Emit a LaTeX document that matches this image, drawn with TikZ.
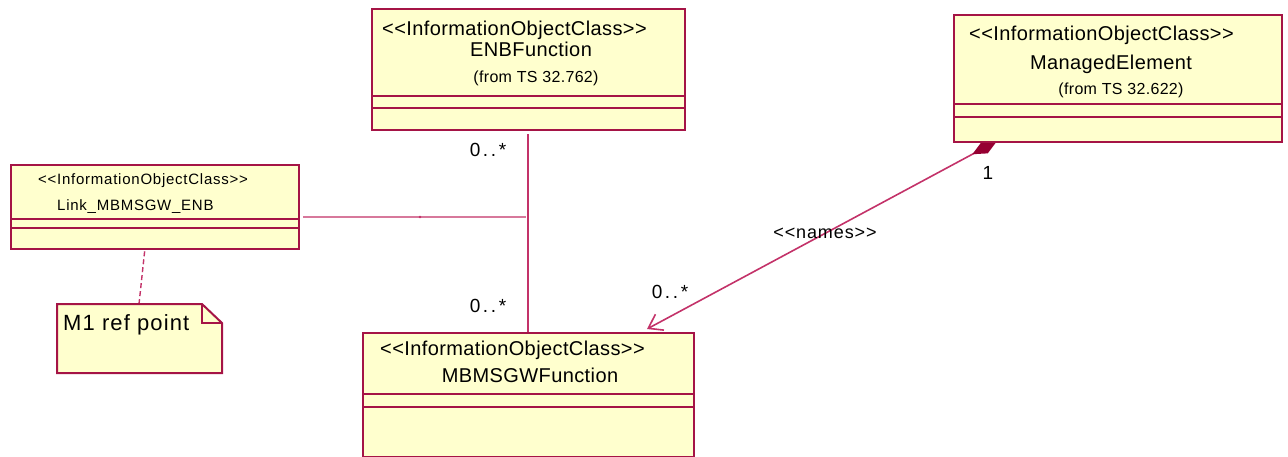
\documentclass[tikz,border=0pt]{standalone}
\usepackage{fontspec}
\setmainfont{Liberation Sans}
\newfontfamily\umlf[LetterSpace=2]{Liberation Sans}
\newfontfamily\umlg[LetterSpace=5]{Liberation Sans}
\newfontfamily\umlm[LetterSpace=14]{Liberation Sans}
\usetikzlibrary{arrows.meta}
\definecolor{umlborder}{RGB}{165,20,70}
\definecolor{umlfill}{RGB}{255,255,206}
\definecolor{umlline}{RGB}{195,50,105}
\definecolor{umllight}{RGB}{215,120,155}
\definecolor{umldia}{RGB}{150,0,50}
\tikzset{
  umlbox/.style={draw=umlborder, fill=umlfill, line width=2pt, anchor=north west, inner sep=0pt},
  divider/.style={draw=umlborder, line width=2pt},
  stereo/.style={anchor=west, inner sep=0pt, font=\umlf\fontsize{20}{22}\selectfont},
  stereosmall/.style={anchor=west, inner sep=0pt, font=\umlg\fontsize{15}{17}\selectfont},
  cname/.style={inner sep=0pt, font=\umlf\fontsize{20}{22}\selectfont},
  fromtxt/.style={inner sep=0pt, font=\umlf\fontsize{16}{18}\selectfont},
  mult/.style={inner sep=0pt, font=\umlm\fontsize{19}{21}\selectfont},
  assoc/.style={draw=umlline, line width=1.6pt},
}
\begin{document}
\begin{tikzpicture}[x=1pt,y=-1pt]
\useasboundingbox (0,0) rectangle (1288,456);
% connector end points
\coordinate (vtop) at (528,134);
\coordinate (vbot) at (528,332);
\coordinate (hleft) at (303,217);
\coordinate (hright) at (526,217);
\coordinate (mestart) at (997,141);
\coordinate (mbend) at (647,329);
\coordinate (notetop) at (139,304);
\coordinate (linkbot) at (145,248);
% connectors
\draw[assoc] (vtop) -- (vbot);
\draw[draw=umllight, line width=1.8pt] (hleft) -- (hright);
\fill[umlline] (420,217) circle (1.3);
\draw[assoc, {Diamond[length=28pt,width=13pt,fill=umldia,color=umldia]}-{Straight Barb[length=13pt,width=18pt,line width=1.6pt]}] (mestart) -- (mbend);
\draw[draw=umlline, line width=1.4pt, dashed, dash pattern=on 5pt off 3pt] (notetop) -- (linkbot);
% ENBFunction
\node[umlbox, minimum width=313pt, minimum height=121pt] (enb) at (371,8) {};
\draw[divider] (371,96) -- (684,96);
\draw[divider] (371,108) -- (684,108);
\node[stereo] (enbst) at (382,30) {<<InformationObjectClass>>};
\node[cname] (enbname) at (531,49) {ENBFunction};
\node[fromtxt] (enbfrom) at (536,78) {(from TS 32.762)};
% ManagedElement
\node[umlbox, minimum width=328pt, minimum height=127pt] (me) at (953,14) {};
\draw[divider] (953,104) -- (1281,104);
\draw[divider] (953,117) -- (1281,117);
\node[stereo] (mest) at (969,35) {<<InformationObjectClass>>};
\node[cname] (mename) at (1111,64) {ManagedElement};
\node[fromtxt] (mefrom) at (1121,90) {(from TS 32.622)};
% Link
\node[umlbox, minimum width=288pt, minimum height=84pt] (link) at (10,164) {};
\draw[divider] (10,219) -- (298,219);
\draw[divider] (10,228) -- (298,228);
\node[stereosmall] (linkst) at (38,181) {<<InformationObjectClass>>};
\node[stereosmall] (linkname) at (57,207) {Link\_MBMSGW\_ENB};
% MBMSGWFunction
\node[umlbox, minimum width=331pt, minimum height=124pt] (mb) at (362,332) {};
\draw[divider] (362,394) -- (693,394);
\draw[divider] (362,407) -- (693,407);
\node[stereo] (mbst) at (380,350) {<<InformationObjectClass>>};
\node[cname] (mbname) at (530,375) {MBMSGWFunction};
% Note
\draw[draw=umlborder, fill=umlfill, line width=2pt] (57,304) -- (202,304) -- (222,323) -- (222,373) -- (57,373) -- cycle;
\draw[draw=umlborder, line width=1.6pt] (202,304) -- (202,323) -- (222,323);
\node[anchor=west, inner sep=0pt, font=\umlg\fontsize{22}{24}\selectfont] (notetxt) at (63,325) {M1 ref point};
% multiplicities and labels
\node[mult] (m1) at (488,150) {0..*};
\node[mult] (m2) at (488,306) {0..*};
\node[mult] (m3) at (670,292) {0..*};
\node[mult] (m4) at (988,173) {1};
\node[inner sep=0pt, font=\umlg\fontsize{18}{20}\selectfont] (names) at (825,233) {<<names>>};
\end{tikzpicture}
\end{document}
